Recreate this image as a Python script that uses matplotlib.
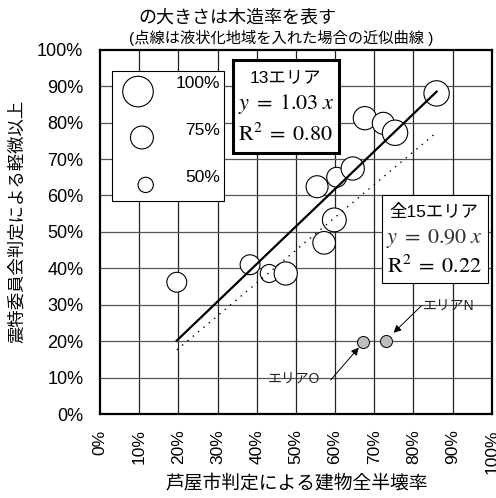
import matplotlib
matplotlib.use("Agg")
import matplotlib.pyplot as plt
from matplotlib.patches import Rectangle
from matplotlib.ticker import MultipleLocator, FuncFormatter

plt.rcParams['font.family'] = ['Liberation Sans', 'Noto Sans CJK JP']
plt.rcParams['mathtext.fontset'] = 'stix'

# 13 areas: Ashiya city judgement (x, %), committee judgement (y, %), wooden ratio
area_x = [19.6, 38.3, 43.2, 47.4, 55.4, 57.2, 59.8, 60.4, 64.5, 67.6, 72.3, 75.3, 85.9]
area_y = [36.2, 41.0, 38.6, 38.6, 62.4, 47.0, 53.3, 65.0, 67.4, 81.2, 79.8, 77.2, 88.0]
wood_ratio = [0.65, 0.65, 0.59, 0.76, 0.72, 0.74, 0.78, 0.65, 0.76, 0.76, 0.72, 0.83, 0.83]

# liquefied areas O and N
liq_names = ['エリアO', 'エリアN']
liq_x = [67.2, 72.9]
liq_y = [19.7, 20.2]

# fitted slopes through the origin
slope_13 = 1.03
r2_13 = 0.80
slope_all = 0.90
r2_all = 0.22

legend_ratios = [1.00, 0.75, 0.50]
legend_labels = ['100%', '75%', '50%']

ticks = list(range(0, 101, 10))


def bubble_size(r):
    return (22.0 * r) ** 2


fig = plt.figure(figsize=(4.96, 4.98), dpi=100)
ax = fig.add_axes([0.2016, 0.1683, 0.790, 0.732])
ax.set_xlim(0, 100)
ax.set_ylim(0, 100)

ax.xaxis.set_major_locator(MultipleLocator(10))
ax.yaxis.set_major_locator(MultipleLocator(10))
pct = FuncFormatter(lambda v, p: f'{v:.0f}%')
ax.xaxis.set_major_formatter(pct)
ax.yaxis.set_major_formatter(pct)
ax.tick_params(axis='x', length=0, pad=11, labelsize=12.5, labelrotation=90)
ax.tick_params(axis='y', length=0, pad=12, labelsize=13)

for t in ticks[1:-1]:
    ax.axvline(t, color='#222222', lw=0.9, zorder=1)
    ax.axhline(t, color='#555555', lw=0.9, zorder=1)

for s in ax.spines.values():
    s.set_linewidth(1.6)
    s.set_color('black')
    s.set_zorder(6)

# bubbles
ax.scatter(area_x, area_y, s=[bubble_size(r) for r in wood_ratio],
           facecolor='white', edgecolor='black', linewidth=0.8, zorder=3)
ax.scatter(liq_x, liq_y, s=75, facecolor='#bdbdbd', edgecolor='black',
           linewidth=0.7, zorder=3)

# regression lines
all_x = area_x + liq_x
x0, x1 = min(all_x), max(all_x)
ax.plot([x0, x1], [slope_13 * x0, slope_13 * x1], color='black', lw=1.6, zorder=4)
ax.plot([x0, x1], [slope_all * x0, slope_all * x1], color='black', lw=1.0,
        linestyle=(0, (1, 4)), zorder=4)

# annotations for liquefied areas
ax.annotate('', xy=(liq_x[1], liq_y[1]), xytext=(25.7, 25.0), textcoords='offset points',
            arrowprops=dict(arrowstyle='-|>', color='black', lw=0.7, shrinkA=0, shrinkB=8,
                            mutation_scale=11), zorder=5)
ax.annotate(liq_names[1], xy=(liq_x[1], liq_y[1]), xytext=(27, 24.5), textcoords='offset points',
            ha='left', va='center', fontsize=10, color='#222222', zorder=5)
ax.annotate('', xy=(liq_x[0], liq_y[0]), xytext=(-23.5, -27.1), textcoords='offset points',
            arrowprops=dict(arrowstyle='-|>', color='black', lw=0.7, shrinkA=0, shrinkB=5,
                            mutation_scale=11), zorder=5)
ax.annotate(liq_names[0], xy=(liq_x[0], liq_y[0]), xytext=(-31.2, -27.1), textcoords='offset points',
            ha='right', va='center', fontsize=10, color='#222222', zorder=5)

# size legend box
ax.add_patch(Rectangle((0.0314, 0.585), 0.316 - 0.0314, 0.942 - 0.585, transform=ax.transAxes,
                       facecolor='white', edgecolor='black', lw=0.8, zorder=5))
leg_cx = [0.097, 0.107, 0.1166]
leg_cy = [0.885, 0.759, 0.629]
leg_ty = [0.907, 0.778, 0.650]
ax.scatter(leg_cx, leg_cy, s=[bubble_size(r) for r in legend_ratios], transform=ax.transAxes,
           facecolor='white', edgecolor='black', linewidth=0.8, zorder=6)
for lab, ty in zip(legend_labels, leg_ty):
    ax.text(0.306, ty, lab, transform=ax.transAxes, ha='right', va='center',
            fontsize=12.5, zorder=7)

# 13-area fit box
ax.add_patch(Rectangle((0.339, 0.716), 0.610 - 0.339, 0.971 - 0.716, transform=ax.transAxes,
                       facecolor='white', edgecolor='black', lw=2.2, zorder=5))
ax.text(0.474, 0.922, '13エリア', transform=ax.transAxes, ha='center', va='center',
        fontsize=12.5, zorder=7)
ax.text(0.474, 0.852, rf'$y\;=\;{slope_13:.2f}\;x$', transform=ax.transAxes, ha='center',
        va='center', fontsize=16, zorder=7)
ax.text(0.474, 0.768, rf'$\mathrm{{R}}^{{2}}\;=\;{r2_13:.2f}$', transform=ax.transAxes,
        ha='center', va='center', fontsize=16, zorder=7)

# all-area fit box
ax.add_patch(Rectangle((0.719, 0.361), 0.991 - 0.719, 0.601 - 0.361, transform=ax.transAxes,
                       facecolor='white', edgecolor='black', lw=0.8, zorder=5))
ax.text(0.853, 0.555, '全15エリア', transform=ax.transAxes, ha='center', va='center',
        fontsize=12.5, zorder=7)
ax.text(0.853, 0.482, rf'$y\;=\;{slope_all:.2f}\;x$', transform=ax.transAxes, ha='center',
        va='center', fontsize=16, color='#333333', zorder=7)
ax.text(0.853, 0.405, rf'$\mathrm{{R}}^{{2}}\;=\;{r2_all:.2f}$', transform=ax.transAxes,
        ha='center', va='center', fontsize=16, zorder=7)

# titles and axis labels
fig.text(237 / 496, 1 - 18 / 498, 'の大きさは木造率を表す', ha='center', va='center', fontsize=13)
fig.text(281 / 496, 1 - 38 / 498, '(点線は液状化地域を入れた場合の近似曲線 )', ha='center',
         va='center', fontsize=11)
fig.text(17 / 496, 1 - 221 / 498, '震特委員会判定による軽微以上', rotation=90, ha='center',
         va='center', fontsize=12.5)
fig.text(297 / 496, 1 - 484 / 498, '芦屋市判定による建物全半壊率', ha='center', va='center',
         fontsize=13.5)

fig.savefig('out.png', dpi=100)
